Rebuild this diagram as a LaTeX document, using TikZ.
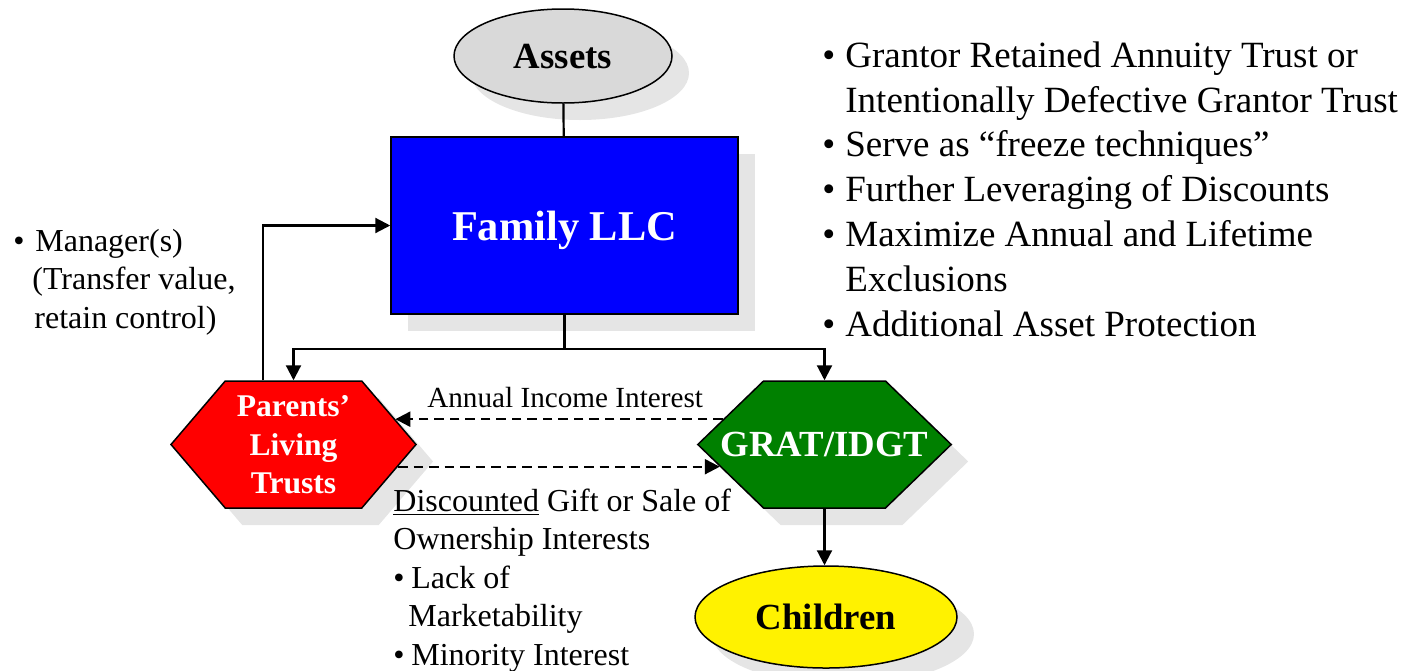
\documentclass[tikz,border=0pt]{standalone}
\usepackage{fontspec}
\setmainfont{Liberation Serif}
\usetikzlibrary{arrows.meta,shapes.geometric,shapes.symbols,shadows,calc}
\definecolor{trustgreen}{RGB}{0,128,0}

\begin{document}
\begin{tikzpicture}[x=0.5pt,y=-0.5pt,>={Triangle[length=7.5pt,width=7.5pt]},
  box/.style={draw,line width=0.75pt,inner sep=0pt,align=center,text depth=0pt,
    font=\bfseries\fontsize{18.4}{22}\selectfont,
    drop shadow={shadow xshift=8.5pt,shadow yshift=-8.5pt,fill=black!10,opacity=1}},
  hexa/.style={box,signal,signal to=west and east,signal pointer angle=#1},
  flow/.style={line width=1.1pt},
  back/.style={flow,dash pattern=on 4.75pt off 3pt},
  note/.style={inner sep=0pt,align=left,anchor=base west,font=\fontsize{16}{19.25}\selectfont}]
  \newcommand*{\Bul}[1]{\makebox[#1][l]{\textbullet}}
  \useasboundingbox (0,0) rectangle (1416,670);

  % shapes
  \node[box,ellipse,fill=black!15,minimum width=109pt,minimum height=47pt] (assets) at (563,56) {Assets};
  \node[box,fill=blue,text=white,minimum width=173.5pt,minimum height=88.5pt,
    font=\bfseries\fontsize{21.2}{25}\selectfont] (llc) at (564.5,225.5) {Family LLC};
  \node[hexa=99,fill=red,text=white,minimum width=122.5pt,minimum height=63.5pt,
    font=\bfseries\fontsize{15.8}{19.25}\selectfont] (parents) at (293.5,444.5) {Parents’\\Living\\Trusts};
  \node[hexa=88,fill=trustgreen,text=white,inner xsep=-21.5pt,minimum height=63.5pt] (grat) at (824.5,444.5) {GRAT/IDGT};
  \node[box,ellipse,fill=yellow,minimum width=131pt,minimum height=51pt] (kids) at (826,617) {Children};

  % connectors
  \coordinate (split) at ($(llc.south)+(0,34)$);
  \draw[flow] (assets) -- (llc);
  \draw[flow] (llc.south) -- (split);
  \draw[flow,->] (split) -| (parents.north);
  \draw[flow,->] (split) -| (grat.north);
  \draw[flow,->] ([xshift=-15.25pt]parents.north) |- (llc.west);
  \draw[flow,->] (grat.south) -- (grat.south |- kids.north);
  \draw[back,->] (grat.166) -- (grat.166 -| parents.14)
    node[midway,anchor=base,xshift=3pt,yshift=6pt,inner sep=0pt,font=\fontsize{14.6}{17}\selectfont] {Annual Income Interest};
  \draw[back,->] (parents.-12) -- (parents.-12 -| grat.192);

  % texts
  \node[note] (manager) at (13,328) {\Bul{11pt}Manager(s)\\\hspace*{9.5pt}(Transfer value,\\\hspace*{10.5pt}retain control)};
  \node[note] (gift) at (393,665) {\underline{Discounted} Gift or Sale of\\Ownership Interests\\
    \Bul{9pt}Lack of\\\hspace*{7.5pt}Marketability\\\Bul{9pt}Minority Interest};
  \node[note,font=\fontsize{18.5}{22.4}\selectfont] (goals) at (822,336) {\Bul{11.5pt}Grantor Retained Annuity Trust or\\
    \hspace*{11.5pt}Intentionally Defective Grantor Trust\\
    \Bul{11.5pt}Serve as “freeze techniques”\\
    \Bul{11.5pt}Further Leveraging of Discounts\\
    \Bul{11.5pt}Maximize Annual and Lifetime\\
    \hspace*{11.5pt}Exclusions\\
    \Bul{11.5pt}Additional Asset Protection};
\end{tikzpicture}
\end{document}
